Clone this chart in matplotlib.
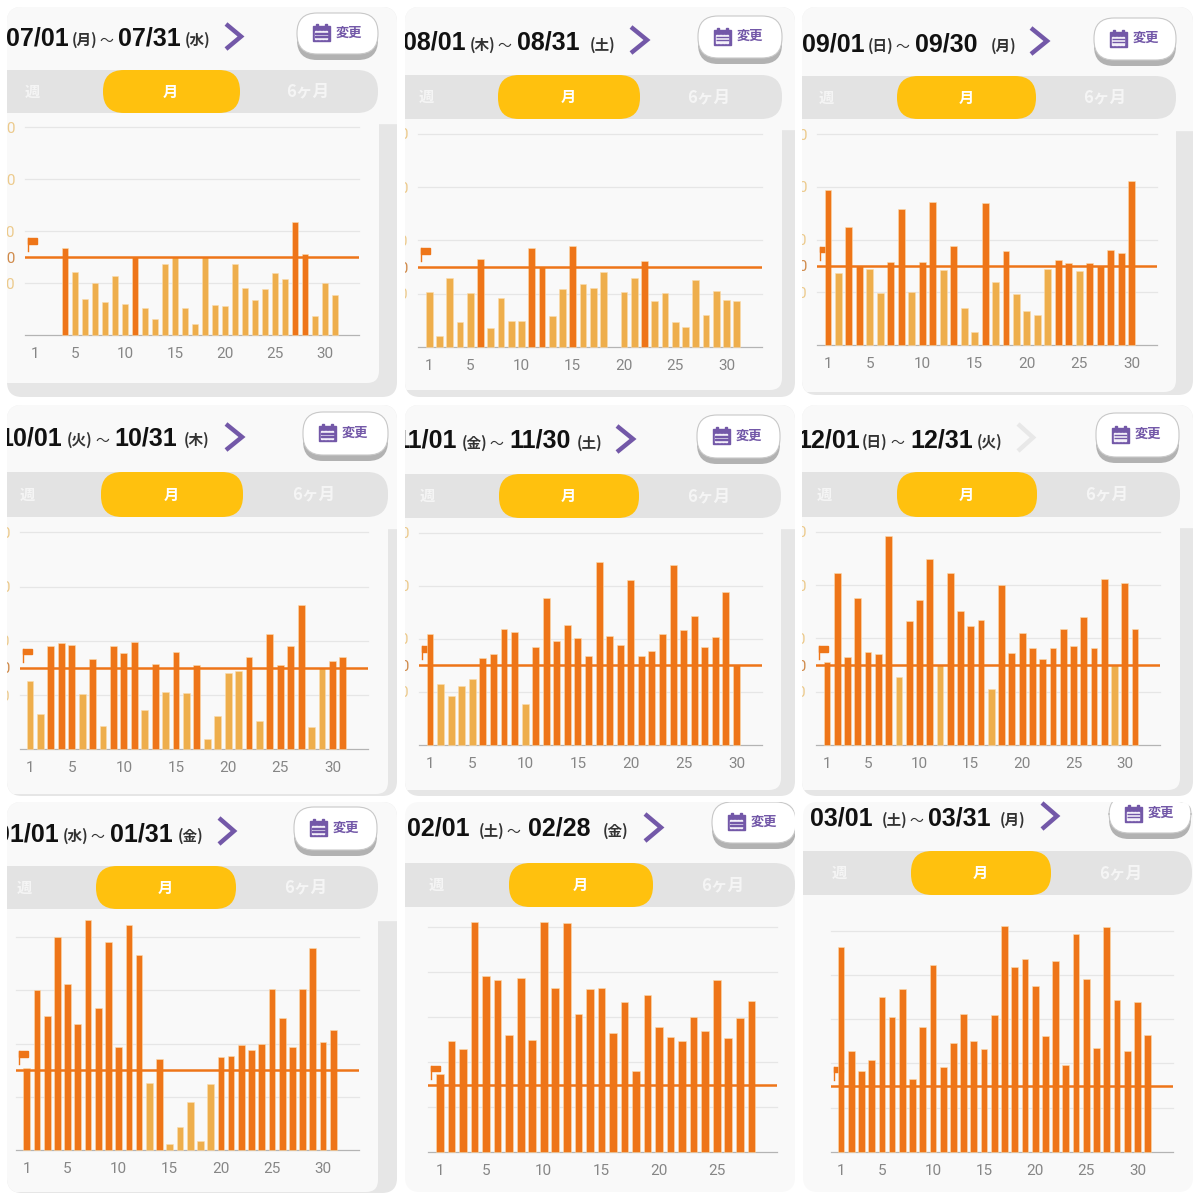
import matplotlib
matplotlib.use("Agg")
import matplotlib.pyplot as plt
from matplotlib.patches import FancyBboxPatch, Rectangle
from matplotlib.transforms import Bbox

CJK = ["Noto Sans CJK JP", "DejaVu Sans"]
LATIN = ["Liberation Sans", "DejaVu Sans"]

# daily values
jul = [0,0,0,3364,2440,1387,1990,1258,2286,1207,3010,1027,616,2735,2990,1053,437,2990,1143,1130,2735,1810,1335,1759,2375,2170,4353,3133,732,2016,1541]
aug = [2084,437,2608,948,2047,3307,711,1835,973,986,3719,3008,1186,2172,3794,2371,2209,2833,0,2059,2583,3232,1735,2022,936,774,2508,1198,2109,1785,1735]
sep = [5890,2718,4487,3008,2895,1984,3135,5144,2022,3135,5410,2831,3767,1416,506,5385,2376,3577,1947,1302,1150,2869,3223,3122,2806,3109,3008,3602,3501,6219]
oct_ = [2519,1290,3810,3933,3859,2052,3331,848,3798,3540,3970,1438,3159,2102,3576,2065,3122,369,1241,2827,2900,3404,1057,4240,3109,3822,5334,836,2990,3269,3404]
nov = [4182,2286,1846,2236,2487,3278,3429,4383,4258,1545,3680,5539,3906,4522,4032,3366,6883,4107,3755,6217,3341,3529,4195,6770,4333,4861,3705,4057,5752,3010]
dec = [3100,6450,3300,5512,3500,3400,7825,2537,4637,5425,6987,2990,6437,5025,4450,4687,2112,6000,3437,4212,3637,3212,3637,4362,3700,4787,3637,6237,2990,6062,4362]
jan = [3092,5997,5020,8000,6247,4745,8639,5346,7825,3869,8438,7312,2529,3405,213,876,1803,338,2479,3493,3543,3956,3756,3981,6060,4945,3881,6060,7575,4069,4507]
feb = [3476,4925,4570,10235,7824,7661,5191,7750,4969,10205,7291,10176,6138,7262,7306,5310,6685,3623,6981,5561,5117,4955,6005,5398,7661,5088,5960,6729]
mar = [9262,4548,3645,4157,7018,6114,7379,3313,5648,8434,3840,4940,6250,5030,4669,6175,10226,8358,8705,7500,5241,8614,3931,9849,7816,4714,10150,6882,4563,6762,5271]

series = [jul, aug, sep, oct_, nov, dec, jan, feb, mar]
starts = ["07/01", "08/01", "09/01", "10/01", "11/01", "12/01", "01/01", "02/01", "03/01"]
ends = ["07/31", "08/31", "09/30", "10/31", "11/30", "12/31", "01/31", "02/28", "03/31"]
start_days = ["(月)", "(木)", "(日)", "(火)", "(金)", "(日)", "(水)", "(土)", "(土)"]
end_days = ["(水)", "(土)", "(月)", "(木)", "(土)", "(火)", "(金)", "(金)", "(月)"]
goal = 3000
top_values = [8000, 8000, 8000, 8000, 8000, 8000, 8000, 10000, 10000]

DARK = "#ee7518"
LIGHT = "#eeae4c"
PURPLE = "#7358a8"

# pixel layout of each screenshot
# card, inner card (right, bottom), grey start, title x's + baseline, chevron, button, band, pill, labels, axes
layout = [
    dict(card=(7,7,397,397), inner=(379,383), grey=123, tx=(6,72,101,118,185), ty=45, chev=(226,241,24,49), btn=(297,378,13,54), band=(70,113,378), pill=(103,240), lab=(32,170,308),
         ax=(25,359,335,127.3), day1=35, step=10.0),
    dict(card=(405,7,795,397), inner=(782,390), grey=129, tx=(403,470,499,517,590), ty=50, chev=(631,647,27,53), btn=(698,782,16,58), band=(75,119,782), pill=(498,640), lab=(426,568,709),
         ax=(418,762,347.3,133.7), day1=429.3, step=10.25),
    dict(card=(802,7,1193,395), inner=(1176,392), grey=130, tx=(802,868,897,915,991), ty=51, chev=(1031,1047,28,54), btn=(1094,1176,18,60), band=(76,119,1176), pill=(897,1036), lab=(826,966,1105),
         ax=(817,1157,345,134), day1=828, step=10.47),
    dict(card=(7,405,397,796), inner=(388,794), grey=528, tx=(-1,67,97,114,184), ty=445, chev=(226,242,424,450), btn=(303,388,412,455), band=(472,517,388), pill=(101,243), lab=(27,171,314),
         ax=(20,368,749.3,532.3), day1=30, step=10.43),
    dict(card=(405,405,795,796), inner=(781,790), grey=528, tx=(395,462,491,509,577), ty=448, chev=(617,633,426,452), btn=(697,780,415,458), band=(474,518,781), pill=(499,639), lab=(427,568,709),
         ax=(419,762,745,532.7), day1=430, step=10.57),
    dict(card=(802,405,1193,796), inner=(1180,790), grey=527, tx=(797,862,892,910,977), ty=447, chev=(1018,1033,424,451), btn=(1096,1179,413,457), band=(472,517,1180), pill=(897,1037), lab=(824,966,1107),
         ax=(816,1160,745,531.7), day1=827, step=10.27),
    dict(card=(7,802,397,1193), inner=(378,1192), grey=920, tx=(-4,63,92,110,178), ty=841, chev=(219,234,818,844), btn=(294,377,807,850), band=(866,909,378), pill=(96,236), lab=(24,165,306),
         ax=(16,359,1150,937), day1=26.7, step=10.22),
    dict(card=(405,802,795,1192), inner=None, grey=None, tx=(407,479,508,528,603), ty=836, chev=(645,661,814,841), btn=(712,796,802,843), band=(863,907,795), pill=(509,653), lab=(436,580,723),
         ax=(428,777,1152.3,927), day1=440, step=11.53),
    dict(card=(803,802,1193,1192), inner=None, grey=None, tx=(810,882,911,928,1000), ty=825, chev=(1042,1057,803,829), btn=(1109,1191,795,833), band=(851,895,1192), pill=(911,1051), lab=(839,980,1121),
         ax=(831,1173,1152,930.7), day1=841, step=10.22),
]

fig = plt.figure(figsize=(12, 12), dpi=100, facecolor="white")
base = fig.add_axes([0, 0, 1, 1], zorder=0)
base.set_xlim(0, 1200)
base.set_ylim(1200, 0)
base.axis("off")


def rounded(x0, y0, x1, y1, r, **kw):
    p = FancyBboxPatch((x0, y0), x1 - x0, y1 - y0, boxstyle=f"round,pad=0,rounding_size={r}", linewidth=kw.pop("lw", 0), **kw)
    base.add_patch(p)
    return p


def calendar(x, y, clip):
    # small purple calendar icon in the button
    parts = [Rectangle((x, y + 2), 17, 15, color=PURPLE),
             Rectangle((x + 3, y), 2, 3, color=PURPLE),
             Rectangle((x + 12, y), 2, 3, color=PURPLE)]
    for i in range(4):
        parts.append(Rectangle((x + 2 + i * 3.4, y + 7), 2.1, 8, color="#f4f0fa"))
    for j in range(2):
        parts.append(Rectangle((x + 2, y + 9 + j * 3), 13, 0.9, color=PURPLE))
    for p in parts:
        base.add_patch(p)
        p.set_clip_path(clip)


for i, vals in enumerate(series):
    L = layout[i]
    cx0, cy0, cx1, cy1 = L["card"]
    # agg clips text with a box only, in display pixels
    text_box = Bbox([[cx0, 1200 - cy1], [cx1, 1200 - cy0]])

    # card with grey shade behind it
    has_shade = L["inner"] is not None
    card = rounded(cx0, cy0, cx1, cy1, 15, facecolor="#e6e6e6" if has_shade else "#f9f9f9")
    if has_shade:
        t = Rectangle((cx0, cy0), cx1 - cx0, L["grey"] - cy0, color="#f9f9f9")
        base.add_patch(t)
        t.set_clip_path(card)
        inner = rounded(cx0 - 20, cy0, L["inner"][0], L["inner"][1], 12, facecolor="#f9f9f9")
        inner.set_clip_path(card)

    # title pieces
    tx = L["tx"]
    ty = L["ty"]
    pieces = [(tx[0], starts[i], LATIN, 18, "bold", "#111111"), (tx[1], start_days[i], CJK, 10.5, "bold", "#333333"),
              (tx[2] - 2, "～", CJK, 10, "regular", "#333333"), (tx[3], ends[i], LATIN, 18, "bold", "#111111"),
              (tx[4], end_days[i], CJK, 10.5, "bold", "#333333")]
    for px, s, fam, size, w, col in pieces:
        txt = base.text(px, ty, s, family=fam, fontsize=size, weight=w, color=col, ha="left", va="baseline")
        txt.set_clip_on(True)
        txt.set_clip_box(text_box)

    # chevron, the december one is greyed out
    c = L["chev"]
    base.plot([c[0], c[1], c[0]], [c[2], (c[2] + c[3]) / 2, c[3]], color="#e8e8e8" if i == 5 else PURPLE,
              lw=3.2, solid_joinstyle="miter", solid_capstyle="butt")

    # change button
    b = L["btn"]
    shadow = rounded(b[0], b[2] + 5, b[1], b[3] + 6, 20, facecolor="#b2b2b2")
    white = rounded(b[0], b[2], b[1], b[3], 20, facecolor="white", edgecolor="#c8c8c8", lw=0.8)
    shadow.set_clip_path(card)
    white.set_clip_path(card)
    mid = (b[2] + b[3]) / 2
    calendar(b[0] + 16, mid - 9.5, card)
    t = base.text(b[0] + 52, mid - 1, "変更", family=CJK, fontsize=9.5, weight="bold", color=PURPLE, ha="center", va="center")
    t.set_clip_on(True)
    t.set_clip_box(text_box)

    # period switch
    by0, by1, bx1 = L["band"]
    band = rounded(cx0 - 30, by0, bx1, by1, 21, facecolor="#e3e3e3")
    band.set_clip_path(card)
    rounded(L["pill"][0], by0, L["pill"][1], by1, 21, facecolor="#ffc10e")
    ymid = (by0 + by1) / 2
    for x, s, col, size in zip(L["lab"], ["週", "月", "6ヶ月"], ["#f5f5f5", "#ffffff", "#f5f5f5"], [11, 11, 12]):
        base.text(x, ymid, s, family=CJK, fontsize=size, weight="bold", color=col, ha="center", va="center")

    # goal flag, the bars are drawn over it
    left, right, y0, ytop = L["ax"]
    goal_y = y0 - (y0 - ytop) * goal / top_values[i]
    base.plot([left + 3, left + 3], [goal_y - 19, goal_y - 6], color=DARK, lw=1)
    base.add_patch(Rectangle((left + 3, goal_y - 19), 9, 5.5, color=DARK))

    # the chart itself
    ax = fig.add_axes([left / 1200, 1 - y0 / 1200, (right - left) / 1200, (y0 - ytop) / 1200], zorder=1)
    ax.patch.set_alpha(0)
    step = L["step"]
    ax.set_xlim((left - L["day1"]) / step + 1, (right - L["day1"]) / step + 1)
    ax.set_ylim(0, top_values[i])
    days = list(range(1, len(vals) + 1))
    colors = [DARK if v >= goal else LIGHT for v in vals]
    edges = [0.4 if v > 0 else 0 for v in vals]
    ax.bar(days, vals, width=0.66, color=colors, edgecolor="#fbdcae", linewidth=edges, zorder=3, clip_on=False)
    ax.axhline(goal, color=DARK, lw=1.8, zorder=4)

    grid = list(range(2000, top_values[i] + 1, 2000))
    ax.set_yticks(grid + [goal])
    for g in grid:
        ax.axhline(g, color="#e6e6e6", lw=0.9, zorder=1, clip_on=False)
    ax.set_xticks([d for d in [1, 5, 10, 15, 20, 25, 30] if d <= len(vals)])
    ax.tick_params(axis="x", length=0, pad=8.5, labelsize=11, labelcolor="#868686")
    for lab in ax.get_xticklabels():
        lab.set_family(["Roboto", "DejaVu Sans"])
    ax.tick_params(axis="y", length=0, pad=7, labelsize=11, labelcolor="#ecca8c")
    for tick, v in zip(ax.yaxis.get_major_ticks(), grid + [goal]):
        tick.label1.set_family(["Roboto", "DejaVu Sans"])
        if v == goal:
            tick.label1.set_color("#d08a4a")
        tick.label1.set_clip_on(True)
        tick.label1.set_clip_box(Bbox([[cx0, 0], [cx1, 1200]]))
    if i >= 6:
        ax.set_yticklabels([])

    for s in ["top", "left", "right"]:
        ax.spines[s].set_visible(False)
    ax.spines["bottom"].set_color("#b4b4b4")
    ax.spines["bottom"].set_linewidth(0.9)

fig.savefig("out.png", dpi=100)
